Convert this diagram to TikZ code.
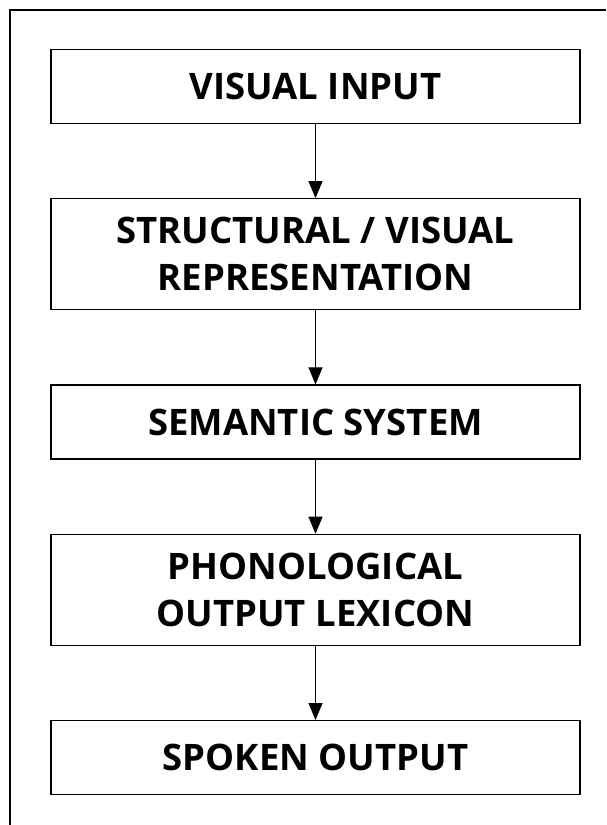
\documentclass[tikz,border=0pt]{standalone}
\usepackage{fontspec}
\setmainfont{Open Sans}
\usepackage{tikz}
\usetikzlibrary{positioning, arrows.meta}

\begin{document}
\begin{tikzpicture}[
  x=1pt, y=1pt,
  node distance=74pt,
  stage/.style={rectangle, draw, line width=1.3pt, minimum width=529pt,
    minimum height=74pt, align=center, inner sep=0pt,
    font=\fontsize{36.5}{47}\selectfont\bfseries},
  tall/.style={minimum height=111pt},
  flow/.style={-{Triangle[length=17pt,width=14pt]}, line width=1pt}
]
\useasboundingbox (0,0) rectangle (606,825);
\draw[line width=1.3pt] (10,0) -- (10,815) -- (606,815);

\node[stage] (input) at (315.5,738.5) {VISUAL INPUT};
\node[stage, tall, below=of input] (struct) {STRUCTURAL / VISUAL\\REPRESENTATION};
\node[stage, below=of struct] (sem) {SEMANTIC SYSTEM};
\node[stage, tall, below=of sem] (phon) {PHONOLOGICAL\\OUTPUT LEXICON};
\node[stage, below=of phon] (spoken) {SPOKEN OUTPUT};

\draw[flow] (input) -- (struct);
\draw[flow] (struct) -- (sem);
\draw[flow] (sem) -- (phon);
\draw[flow] (phon) -- (spoken);
\end{tikzpicture}
\end{document}
